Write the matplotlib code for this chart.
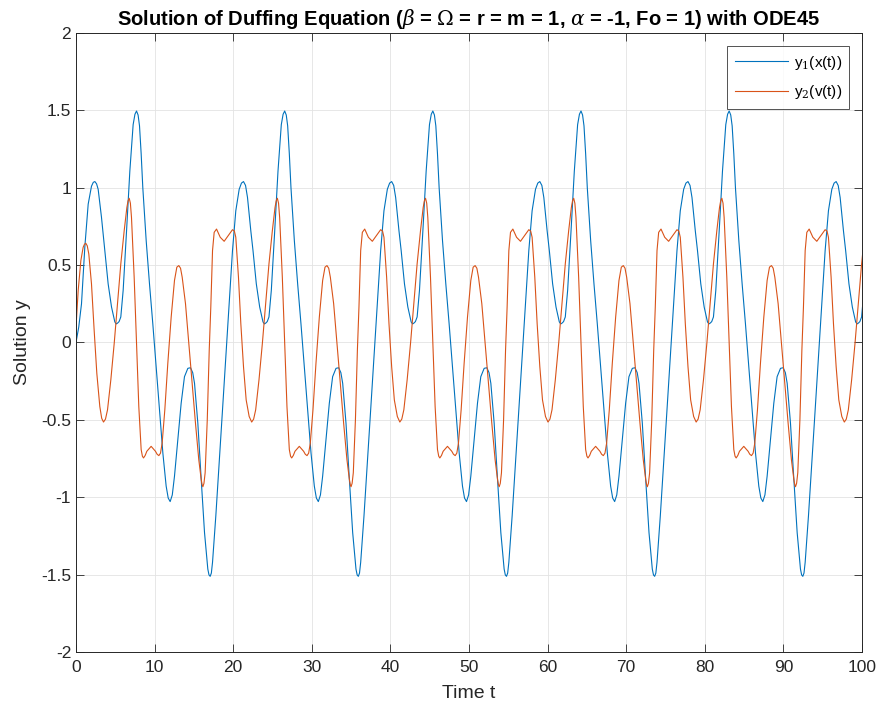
import matplotlib
matplotlib.use("Agg")
import matplotlib.pyplot as plt
import numpy as np

# ---- data ----
# start (transient) part, before the repeating cycle
t_x_start = [0.0, 0.35, 0.70, 1.12, 1.55, 1.97, 2.20, 2.40, 2.62, 2.82, 3.24]
x_start = [0.0, 0.10, 0.25, 0.615, 0.894, 1.01, 1.035, 1.04, 1.025, 0.99, 0.81]
t_v_start = [0.0, 0.28, 0.62, 0.91, 1.08, 1.25, 1.43, 1.63, 1.97, 2.31, 2.65, 3.03, 3.27]
v_start = [0.10, 0.337, 0.53, 0.615, 0.635, 0.641, 0.625, 0.572, 0.379, 0.079, -0.2, -0.414, -0.49]

# one repeating cycle (times of the first cycle)
t_x_cycle = [3.67, 4.09, 4.52, 4.94, 5.12, 5.28, 5.48, 5.70, 6.00, 6.43, 6.85, 7.27,
             7.50, 7.70, 7.90, 8.08, 8.29, 8.50, 8.93, 9.35, 9.77, 10.20, 10.62,
             11.05, 11.47, 11.73, 11.98, 12.25, 12.53, 12.96, 13.38, 13.80, 14.23,
             14.57, 14.85, 15.08, 15.50, 15.93, 16.35, 16.77, 16.92, 17.07, 17.22,
             17.37, 17.79, 18.22, 18.64, 19.06, 19.49, 19.91, 20.33, 20.76, 21.05,
             21.31, 21.57, 21.82, 22.24]
x_cycle = [0.594, 0.379, 0.229, 0.133, 0.12, 0.125, 0.135, 0.165, 0.337, 0.72, 1.108, 1.408,
           1.475, 1.496, 1.47, 1.40, 1.22, 1.0, 0.658, 0.379, 0.122, -0.156, -0.435,
           -0.714, -0.928, -1.005, -1.028, -0.985, -0.864, -0.628, -0.392, -0.221, -0.167,
           -0.163, -0.195, -0.264, -0.521, -0.885, -1.228, -1.464, -1.502, -1.511, -1.49,
           -1.42, -1.12, -0.778, -0.435, -0.092, 0.251, 0.594, 0.851, 0.99, 1.03,
           1.04, 1.015, 0.937, 0.722]
t_v_cycle = [3.50, 3.75, 4.01, 4.43, 4.86, 5.28, 5.70, 6.13, 6.47, 6.62, 6.77, 6.92, 7.06, 7.40,
             7.70, 7.99, 8.29, 8.45, 8.59, 8.80, 9.01, 9.56, 10.11, 10.32, 10.54, 10.75, 10.96, 11.30,
             11.68, 12.11, 12.53, 12.83, 13.08, 13.30, 13.51, 13.93, 14.35, 14.78,
             15.20, 15.62, 15.93, 16.05, 16.14, 16.28, 16.43, 16.70, 16.95, 17.15, 17.37,
             17.58, 17.88, 18.35, 18.85, 19.36, 19.91, 20.15, 20.33, 20.67, 20.97,
             21.31, 21.65, 22.03]
v_cycle = [-0.514, -0.495, -0.435, -0.242, -0.006, 0.251, 0.508, 0.722, 0.872, 0.915, 0.932, 0.90, 0.808, 0.422,
           -0.006, -0.414, -0.692, -0.735, -0.746, -0.73, -0.703, -0.671, -0.703, -0.722, -0.731, -0.715, -0.65, -0.435,
           -0.135, 0.165, 0.401, 0.487, 0.497, 0.48, 0.422, 0.251, -0.006, -0.264,
           -0.521, -0.757, -0.885, -0.92, -0.932, -0.91, -0.842, -0.5, -0.05, 0.229, 0.594,
           0.712, 0.733, 0.68, 0.654, 0.69, 0.729, 0.72, 0.68, 0.422, 0.122,
           -0.156, -0.371, -0.478]

cycle_shifts = [0.0, 18.85, 37.70, 56.55, 75.40, 94.25]

x_ticks = [0, 10, 20, 30, 40, 50, 60, 70, 80, 90, 100]
y_ticks = [-2, -1.5, -1, -0.5, 0, 0.5, 1, 1.5, 2]
y_ticklabels = ["-2", "-1.5", "-1", "-0.5", "0", "0.5", "1", "1.5", "2"]

title = r"Solution of Duffing Equation ($\beta$ = $\Omega$ = r = m = 1, $\alpha$ = -1, Fo = 1) with ODE45"
labels = [r"y$_1$(x(t))", r"y$_2$(v(t))"]

# ---- build series ----
def build(t0, y0, tc, yc, tmax=100.0):
    T = list(t0)
    Y = list(y0)
    for s in cycle_shifts:
        for ti, yi in zip(tc, yc):
            T.append(ti + s)
            Y.append(yi)
    T = np.array(T)
    Y = np.array(Y)
    keep = T <= tmax + 0.5
    return T[keep], Y[keep]

tx, xx = build(t_x_start, x_start, t_x_cycle, x_cycle)
tv, vv = build(t_v_start, v_start, t_v_cycle, v_cycle)

plt.rcParams["font.family"] = ["Liberation Sans", "DejaVu Sans"]
plt.rcParams["axes.unicode_minus"] = False
plt.rcParams["mathtext.fontset"] = "dejavuserif"

fig = plt.figure(figsize=(8.82, 7.08), dpi=100)
ax = fig.add_axes([76 / 882, 1 - 652 / 708, (862 - 76) / 882, (652 - 33) / 708])

c_ax = "#262626"
ax.plot(tx, xx, color="#0072BD", lw=0.8, label=labels[0])
ax.plot(tv, vv, color="#D95319", lw=0.8, label=labels[1])

ax.set_xlim(0, 100)
ax.set_ylim(-2, 2)
ax.set_xticks(x_ticks)
ax.set_yticks(y_ticks)
ax.set_yticklabels(y_ticklabels)
ax.grid(True, color="#e3e3e3", lw=0.6)
ax.set_axisbelow(True)
ax.tick_params(direction="in", length=6, width=0.6, colors=c_ax, labelsize=12.5,
               top=True, right=True)
ax.tick_params(axis="x", pad=6)
for sp in ax.spines.values():
    sp.set_color(c_ax)
    sp.set_linewidth(0.7)

ax.set_xlabel("Time t", fontsize=14, color=c_ax, labelpad=7)
ax.set_ylabel("Solution y", fontsize=14, color=c_ax, labelpad=7)
ax.set_title(title, fontsize=14.5, fontweight="bold", color="black", pad=6)

leg = ax.legend(loc="upper right", bbox_to_anchor=(0.984, 0.979), fontsize=11,
                frameon=True, fancybox=False, edgecolor=c_ax, handlelength=3.5,
                borderpad=0.5, labelspacing=0.75, handletextpad=0.35, borderaxespad=0)
leg.get_frame().set_linewidth(0.7)

fig.savefig("out.png", dpi=100)
